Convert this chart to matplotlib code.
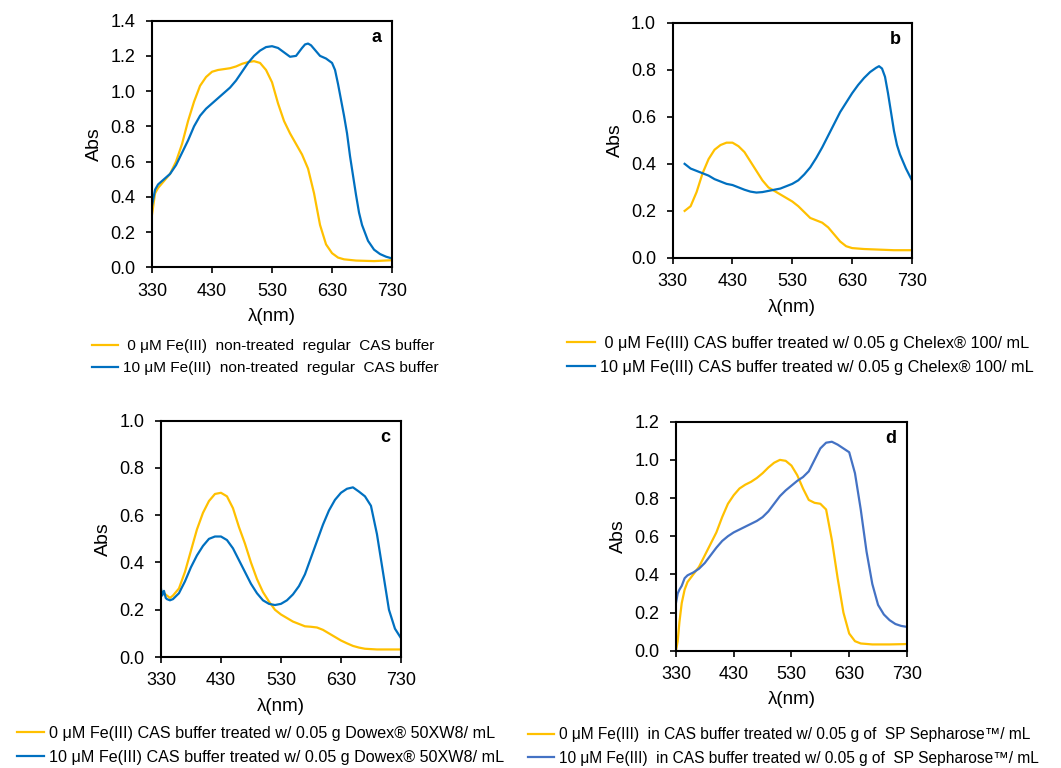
import matplotlib
matplotlib.use("Agg")
import matplotlib.pyplot as plt

plt.rcParams['font.family'] = ['Liberation Sans', 'DejaVu Sans']

YELLOW = '#FFC000'
BLUE = '#0070C0'
BLUE_D = '#4472C4'

# ---------------- Panel a ----------------
a_wl_y = [330, 335, 340, 350, 360, 370, 380, 390, 400, 410, 420, 430, 440, 450, 460, 470, 480, 490, 500, 510,
          520, 530, 540, 550, 560, 570, 580, 590, 600, 610, 620, 630, 640, 650, 670, 700, 730]
a_abs_y = [0.30, 0.42, 0.45, 0.49, 0.53, 0.60, 0.70, 0.83, 0.94, 1.03, 1.08, 1.11, 1.12, 1.125, 1.13, 1.14, 1.155, 1.165, 1.17, 1.16,
           1.12, 1.05, 0.93, 0.83, 0.76, 0.70, 0.64, 0.56, 0.42, 0.24, 0.13, 0.08, 0.055, 0.045, 0.038, 0.035, 0.04]
a_wl_b = [330, 335, 340, 350, 360, 370, 380, 390, 400, 410, 420, 430, 440, 450, 460, 470, 480, 490, 500, 510,
          520, 530, 540, 550, 560, 570, 580, 585, 590, 595, 600, 610, 620, 630, 635, 640, 645, 650, 655, 660, 665, 670,
          675, 680, 690, 700, 710, 720, 730]
a_abs_b = [0.35, 0.44, 0.47, 0.50, 0.53, 0.58, 0.65, 0.72, 0.80, 0.86, 0.90, 0.93, 0.96, 0.99, 1.02, 1.06, 1.11, 1.16, 1.20, 1.23,
           1.25, 1.255, 1.245, 1.22, 1.195, 1.20, 1.245, 1.265, 1.27, 1.26, 1.24, 1.20, 1.185, 1.16, 1.12, 1.04, 0.95, 0.86, 0.76, 0.63, 0.52, 0.41,
           0.31, 0.24, 0.15, 0.10, 0.075, 0.06, 0.05]

# ---------------- Panel b ----------------
b_wl_y = [350, 360, 370, 380, 390, 400, 410, 420, 430, 440, 450, 460, 470, 480, 490, 500, 510, 520, 530, 540,
          550, 560, 570, 580, 590, 600, 610, 620, 630, 640, 650, 660, 670, 680, 690, 700, 710, 720, 730]
b_abs_y = [0.20, 0.22, 0.28, 0.36, 0.42, 0.46, 0.48, 0.49, 0.49, 0.475, 0.45, 0.41, 0.37, 0.33, 0.30, 0.285, 0.27, 0.255, 0.24, 0.22,
           0.195, 0.17, 0.16, 0.15, 0.13, 0.10, 0.07, 0.05, 0.042, 0.040, 0.038, 0.037, 0.036, 0.035, 0.034, 0.033, 0.033, 0.033, 0.033]
b_wl_b = [350, 360, 370, 380, 390, 400, 410, 420, 430, 440, 450, 460, 470, 480, 490, 500, 510, 520, 530, 540,
          550, 560, 570, 580, 590, 600, 610, 620, 630, 640, 650, 660, 670, 675, 680, 685, 690, 695, 700, 705, 710, 720, 730]
b_abs_b = [0.40, 0.38, 0.37, 0.36, 0.35, 0.335, 0.325, 0.315, 0.31, 0.30, 0.29, 0.282, 0.278, 0.28, 0.285, 0.29, 0.295, 0.305, 0.315, 0.33,
           0.355, 0.385, 0.425, 0.47, 0.52, 0.57, 0.62, 0.66, 0.70, 0.735, 0.765, 0.79, 0.808, 0.815, 0.805, 0.77, 0.70, 0.62, 0.54, 0.48, 0.44, 0.38, 0.33]

# ---------------- Panel c ----------------
c_wl_y = [330, 335, 340, 345, 350, 360, 370, 380, 390, 400, 410, 420, 430, 440, 450, 460, 470, 480, 490, 500,
          510, 520, 530, 540, 550, 560, 570, 580, 590, 600, 610, 620, 630, 640, 650, 660, 670, 690, 710, 730]
c_abs_y = [0.28, 0.27, 0.26, 0.25, 0.26, 0.29, 0.36, 0.45, 0.54, 0.61, 0.66, 0.69, 0.695, 0.68, 0.63, 0.55, 0.48, 0.40, 0.33, 0.275,
           0.235, 0.20, 0.18, 0.165, 0.15, 0.14, 0.13, 0.128, 0.125, 0.115, 0.10, 0.085, 0.07, 0.058, 0.047, 0.04, 0.035, 0.032, 0.032, 0.032]
c_wl_b = [330, 332, 335, 338, 340, 345, 350, 360, 370, 380, 390, 400, 410, 420, 430, 440, 450, 460, 470, 480,
          490, 500, 510, 520, 530, 540, 550, 560, 570, 580, 590, 600, 610, 620, 630, 640, 650, 660, 670, 680, 690, 700, 710, 720, 730]
c_abs_b = [0.29, 0.26, 0.28, 0.25, 0.245, 0.24, 0.245, 0.27, 0.32, 0.38, 0.43, 0.47, 0.50, 0.51, 0.51, 0.495, 0.46, 0.41, 0.36, 0.31,
           0.27, 0.24, 0.225, 0.22, 0.225, 0.24, 0.265, 0.30, 0.35, 0.42, 0.49, 0.56, 0.62, 0.665, 0.695, 0.712, 0.718, 0.70, 0.68, 0.64, 0.52, 0.36, 0.20, 0.12, 0.08]

# ---------------- Panel d ----------------
d_wl_y = [330, 333, 336, 340, 345, 350, 360, 370, 380, 390, 400, 410, 420, 430, 440, 450, 460, 470, 480, 490,
          500, 510, 520, 530, 540, 550, 560, 570, 580, 590, 600, 610, 620, 630, 640, 650, 670, 700, 730]
d_abs_y = [0.0, 0.05, 0.15, 0.25, 0.32, 0.36, 0.40, 0.44, 0.50, 0.56, 0.62, 0.70, 0.77, 0.815, 0.85, 0.87, 0.885, 0.905, 0.93, 0.96,
           0.985, 1.0, 0.995, 0.97, 0.92, 0.85, 0.79, 0.775, 0.77, 0.74, 0.58, 0.38, 0.20, 0.09, 0.05, 0.038, 0.033, 0.033, 0.035]
d_wl_b = [330, 333, 336, 340, 345, 350, 360, 370, 380, 390, 400, 410, 420, 430, 440, 450, 460, 470, 480, 490,
          500, 510, 520, 530, 540, 550, 560, 570, 580, 590, 600, 610, 620, 630, 640, 650, 660, 670, 680, 690, 700, 710, 720, 730]
d_abs_b = [0.25, 0.30, 0.32, 0.34, 0.38, 0.395, 0.41, 0.43, 0.46, 0.50, 0.54, 0.575, 0.60, 0.62, 0.635, 0.65, 0.665, 0.68, 0.70, 0.73,
           0.77, 0.81, 0.84, 0.865, 0.89, 0.91, 0.94, 1.00, 1.06, 1.09, 1.095, 1.08, 1.06, 1.04, 0.93, 0.74, 0.52, 0.35, 0.24, 0.19, 0.16, 0.14, 0.13, 0.125]

x_ticks = [330, 430, 530, 630, 730]

fig = plt.figure(figsize=(10.61, 7.68), dpi=100)

panels = [
    dict(rect=[0.1433, 0.652, 0.2262, 0.3211], letter='a', ymax=1.4, yticks=[0.0, 0.2, 0.4, 0.6, 0.8, 1.0, 1.2, 1.4],
         xs_y=a_wl_y, ys_y=a_abs_y, xs_b=a_wl_b, ys_b=a_abs_b, blue=BLUE,
         labels=[' 0 μM Fe(III)  non-treated  regular  CAS buffer', '10 μM Fe(III)  non-treated  regular  CAS buffer'],
         leg=(92, 339), lfs=11.1),
    dict(rect=[0.634, 0.6641, 0.2255, 0.3064], letter='b', ymax=1.0, yticks=[0.0, 0.2, 0.4, 0.6, 0.8, 1.0],
         xs_y=b_wl_y, ys_y=b_abs_y, xs_b=b_wl_b, ys_b=b_abs_b, blue=BLUE,
         labels=[' 0 μM Fe(III) CAS buffer treated w/ 0.05 g Chelex® 100/ mL', '10 μM Fe(III) CAS buffer treated w/ 0.05 g Chelex® 100/ mL'],
         leg=(567, 336), lfs=11.7),
    dict(rect=[0.1517, 0.1445, 0.2262, 0.3077], letter='c', ymax=1.0, yticks=[0.0, 0.2, 0.4, 0.6, 0.8, 1.0],
         xs_y=c_wl_y, ys_y=c_abs_y, xs_b=c_wl_b, ys_b=c_abs_b, blue=BLUE,
         labels=['0 μM Fe(III) CAS buffer treated w/ 0.05 g Dowex® 50XW8/ mL', '10 μM Fe(III) CAS buffer treated w/ 0.05 g Dowex® 50XW8/ mL'],
         leg=(17, 726), lfs=11.6),
    dict(rect=[0.6371, 0.1527, 0.2177, 0.2982], letter='d', ymax=1.2, yticks=[0.0, 0.2, 0.4, 0.6, 0.8, 1.0, 1.2],
         xs_y=d_wl_y, ys_y=d_abs_y, xs_b=d_wl_b, ys_b=d_abs_b, blue=BLUE_D,
         labels=['0 μM Fe(III)  in CAS buffer treated w/ 0.05 g of  SP Sepharose™/ mL', '10 μM Fe(III)  in CAS buffer treated w/ 0.05 g of  SP Sepharose™/ mL'],
         leg=(528, 727), lfs=11.2),
]

W, H = 1061.0, 768.0
for p in panels:
    ax = fig.add_axes(p['rect'])
    l1, = ax.plot(p['xs_y'], p['ys_y'], color=YELLOW, lw=1.6, solid_joinstyle='round')
    l2, = ax.plot(p['xs_b'], p['ys_b'], color=p['blue'], lw=1.6, solid_joinstyle='round')
    ax.set_xlim(330, 730)
    ax.set_ylim(0, p['ymax'])
    ax.set_xticks(x_ticks)
    ax.set_yticks(p['yticks'])
    ax.set_yticklabels([f'{v:.1f}' for v in p['yticks']])
    ax.tick_params(axis='both', direction='out', length=4, width=1.2, labelsize=13, color='black')
    ax.tick_params(axis='y', pad=8)
    ax.tick_params(axis='x', pad=7)
    for s in ax.spines.values():
        s.set_linewidth(1.5)
        s.set_color('black')
    ax.set_xlabel('λ(nm)', fontsize=13.5, labelpad=6)
    ax.set_ylabel('Abs', fontsize=14, labelpad=5)
    ax.text(0.955, 0.965, p['letter'], transform=ax.transAxes, ha='right', va='top',
            fontsize=13, fontweight='bold')
    lx, ly = p['leg']
    fig.legend(handles=[l1, l2], labels=p['labels'], loc='upper left',
               bbox_to_anchor=(lx / W, 1 - ly / H), bbox_transform=fig.transFigure,
               frameon=False, fontsize=p['lfs'], handlelength=1.7, handletextpad=0.3,
               labelspacing=0.55, borderpad=0, borderaxespad=0)

fig.savefig('out.png', dpi=100)
